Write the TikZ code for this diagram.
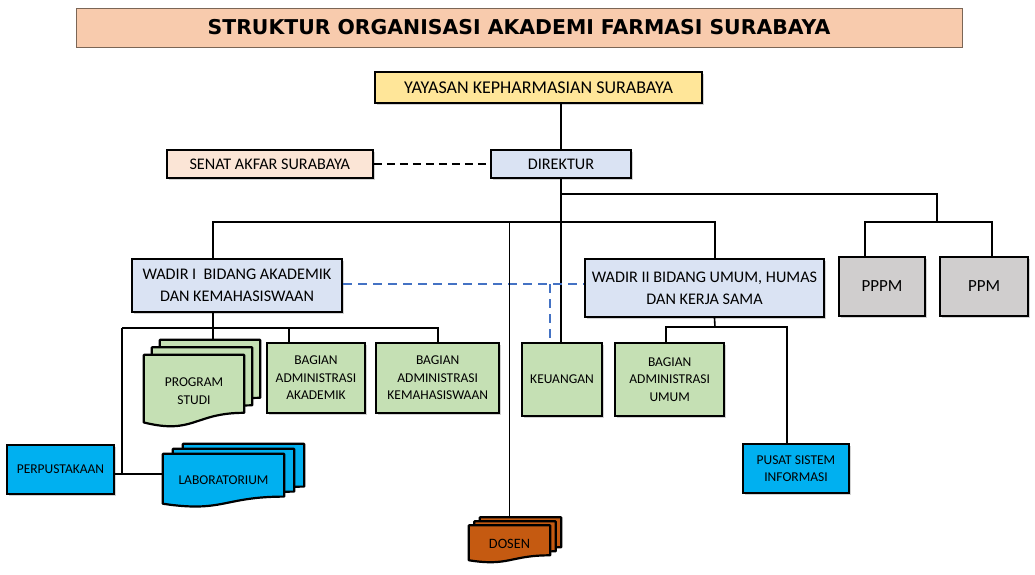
\documentclass[tikz,border=0pt]{standalone}
\usepackage{fontspec}
\setmainfont{Carlito}
\newfontfamily\judulfont{DejaVu Sans}
\usepackage{xcolor}
\usepackage{tikz}
\usetikzlibrary{positioning}
\usetikzlibrary{shapes,arrows,positioning,fit,shadows,backgrounds}

\definecolor{judulbg}{HTML}{F8CBAD}
\definecolor{judulgaris}{HTML}{7B6656}
\definecolor{yayasanbg}{HTML}{FFE699}
\definecolor{senatbg}{HTML}{FBE5D6}
\definecolor{birupucat}{HTML}{DAE3F3}
\definecolor{hijau}{HTML}{C5E0B4}
\definecolor{abu}{HTML}{D0CECE}
\definecolor{birulaut}{HTML}{00B0F0}
\definecolor{oranye}{HTML}{C55A11}
\definecolor{garisbiru}{HTML}{4472C4}

\tikzstyle{block} = [rectangle, draw, line width=2.2pt, align=center, inner sep=2pt,
  drop shadow={shadow xshift=2pt, shadow yshift=-2pt, opacity=0.35}]
\tikzstyle{kecil} = [font=\fontsize{13.5}{17.5}\selectfont]
\tikzstyle{sedang} = [font=\fontsize{16.2}{22}\selectfont]
\tikzstyle{dok} = [draw, line width=2.2pt, line join=round]
\tikzstyle{line} = [draw, line width=2pt]
\tikzstyle{batang} = [draw, line width=2.6pt]
\tikzstyle{cabang} = [draw, line width=1.6pt]
\tikzstyle{tipis} = [draw, line width=1.1pt]
\tikzstyle{putus} = [draw, line width=2.5pt, dash pattern=on 8pt off 5pt]
\tikzstyle{putusbiru} = [draw, garisbiru, line width=2.2pt, dash pattern=on 9pt off 6pt]

% tumpukan dokumen: node, warna, dx, dy, tinggi
\newcommand{\tumpuk}[5]{%
  \begin{pgfonlayer}{background}
    \foreach \k in {2,1,0}{
      \path [dok, fill=#2] ([xshift=\k*#3pt, yshift=\k*#4pt]#1.north west)
        -- ([xshift=\k*#3pt, yshift=\k*#4pt]#1.north east)
        -- ([xshift=\k*#3pt, yshift=\k*#4pt+0.2*#5pt]#1.south east)
        .. controls ([xshift=\k*#3pt, yshift=\k*#4pt+0.2*#5pt]#1.south)
        and ([xshift=\k*#3pt, yshift=\k*#4pt-0.107*#5pt]#1.south)
        .. ([xshift=\k*#3pt, yshift=\k*#4pt+0.066*#5pt]#1.south west) -- cycle;
    }
  \end{pgfonlayer}
  \coordinate (#1 back) at ([xshift=2*#3pt, yshift=2*#4pt]#1.north);
}

\begin{document}
\begin{tikzpicture}[x=1pt, y=-1pt, node distance=10pt, auto]
  \useasboundingbox (0,0) rectangle (1035,574);
    % nodes
   \node [draw=judulgaris, line width=0.8pt, fill=judulbg, minimum width=886pt, minimum height=39pt,
     font=\judulfont\bfseries\fontsize{20.4}{24}\selectfont] (judul) at (519,27.5)
     {STRUKTUR ORGANISASI AKADEMI FARMASI SURABAYA};
   \node [block, fill=yayasanbg, minimum width=327pt, minimum height=31pt,
     font=\fontsize{18}{20}\selectfont] (yayasan) at (538.5,87.5) {YAYASAN KEPHARMASIAN SURABAYA};
   \node [block, sedang, fill=birupucat, minimum width=140pt, minimum height=28pt] (direktur) at (561,164) {DIREKTUR};
   \node [block, sedang, fill=senatbg, minimum width=206pt, minimum height=28pt, left=116pt of direktur] (senat) {SENAT AKFAR SURABAYA};
   \node [block, sedang, fill=birupucat, minimum width=210pt, minimum height=53pt] (wadir1) at (237,285.5)
     {WADIR I\ \ BIDANG AKADEMIK\\DAN KEMAHASISWAAN};
   \node [block, sedang, fill=birupucat, minimum width=239pt, minimum height=58pt] (wadir2) at (704.5,288)
     {WADIR II BIDANG UMUM, HUMAS\\DAN KERJA SAMA};
   \node [block, fill=abu, minimum width=86pt, minimum height=59pt, font=\fontsize{17}{20}\selectfont] (pppm) at (882,286.5) {PPPM};
   \node [block, fill=abu, minimum width=88pt, minimum height=59pt, font=\fontsize{17}{20}\selectfont, right=13pt of pppm] (ppm) {PPM};
   \node [block, kecil, fill=hijau, minimum width=98pt, minimum height=70pt] (bak) at (316,378) {BAGIAN\\ADMINISTRASI\\AKADEMIK};
   \node [block, kecil, fill=hijau, minimum width=123pt, minimum height=70pt, right=9pt of bak] (bkm) {BAGIAN\\ADMINISTRASI\\KEMAHASISWAAN};
   \node [block, kecil, fill=hijau, minimum width=80pt, minimum height=73pt] (keu) at (562,379.5) {KEUANGAN};
   \node [block, kecil, fill=hijau, minimum width=109pt, minimum height=73pt, right=11pt of keu] (bau) {BAGIAN\\ADMINISTRASI\\UMUM};
   \node [block, kecil, fill=birulaut, minimum width=106pt, minimum height=49pt] (psi) at (796,468.5) {PUSAT SISTEM\\INFORMASI};
   \node [block, kecil, fill=birulaut, minimum width=107pt, minimum height=49pt] (perpus) at (60.5,469.5) {PERPUSTAKAAN};
   \node [kecil, align=center, minimum width=100pt, minimum height=72pt] (prodi) at (194,391) {PROGRAM\\STUDI};
   \node [kecil, align=center, minimum width=121pt, minimum height=53pt] (lab) at (223.5,480.5) {LABORATORIUM};
   \node [align=center, minimum width=81pt, minimum height=37pt, font=\fontsize{14.3}{16}\selectfont] (dosen) at (509.5,544) {DOSEN};
   \tumpuk{prodi}{hijau}{8}{7.5}{72}
   \tumpuk{lab}{birulaut}{10}{5}{53}
   \tumpuk{dosen}{oranye}{5.5}{4}{37}

   \coordinate (cabangkanan) at (561,194);
   \coordinate (kanan) at (937,222);
   \coordinate (wadirbar) at (561,222);
   \coordinate (w1bar) at (213,328);
   \coordinate (kiri) at (122,328);
   \coordinate (kiribawah) at (122,474);
   \coordinate (w2bar) at (715,327);
   \coordinate (titikbiru) at (550,284);

    % edges
          \path [line] (yayasan.south -| direktur.north) -- (direktur.north);
          \path [putus] (senat) -- (direktur);
          \path [batang] (direktur.south) -- (direktur.south |- keu.north);
          \path [line] (cabangkanan) -| (kanan);
          \path [line] ([xshift=-17pt]pppm.north) |- (kanan) -| ([xshift=8pt]ppm.north);
          \path [line] ([xshift=-24pt]wadir1.north) |- (wadirbar) -| ([xshift=10pt]wadir2.north);
          \path [putusbiru] (wadir1.east |- titikbiru) -- (titikbiru -| wadir2.west);
          \path [putusbiru] (titikbiru) -- (titikbiru |- keu.north);
          \path [tipis] (dosen.north |- wadirbar) -- (dosen.north |- dosen back);
          \path [line] ([xshift=-24pt]wadir1.south) -- (w1bar);
          \path [line] (kiri) -- (w1bar -| bkm.north) -- (bkm.north);
          \path [line] (w1bar) -- (w1bar |- prodi back);
          \path [line] ([xshift=-27pt]bak.north |- w1bar) -- ([xshift=-27pt]bak.north);
          \path [line] (kiri) -- (kiribawah);
          \path [line] (perpus.east |- kiribawah) -- (lab.west |- kiribawah);
          \path [cabang] ([xshift=10pt]wadir2.south) -- (w2bar);
          \path [cabang] ([xshift=-4pt]bau.north) |- (w2bar) -| ([xshift=-9pt]psi.north);

\end{tikzpicture}
\end{document}
